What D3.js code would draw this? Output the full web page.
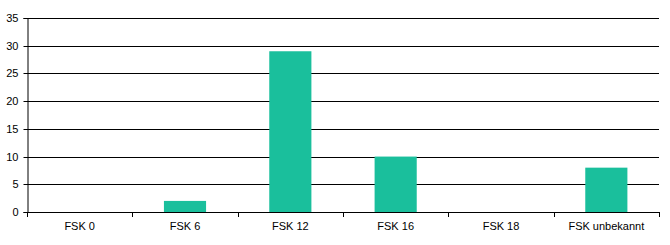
<!DOCTYPE html>
<html>
<head>
<meta charset="utf-8">
<script src="https://cdn.jsdelivr.net/npm/d3@7"></script>
<style>
body { margin: 0; background: #fff; }
text { font-family: "Liberation Sans", Arial, sans-serif; font-size: 11px; fill: #000; }
</style>
</head>
<body>
<div id="chart"></div>
<script>
const categories = ['FSK 0', 'FSK 6', 'FSK 12', 'FSK 16', 'FSK 18', 'FSK unbekannt'];
const values = [0, 2, 29, 10, 0, 8];
const yTicks = [0, 5, 10, 15, 20, 25, 30, 35];

const width = 670, height = 245;
const margin = {top: 18, right: 11, bottom: 33, left: 27};

const svg = d3.select('#chart').append('svg')
    .attr('width', width)
    .attr('height', height);

const x = d3.scaleBand()
    .domain(categories)
    .range([margin.left, width - margin.right])
    .paddingInner(0.6)
    .paddingOuter(0.3);

const y = d3.scaleLinear()
    .domain([0, 35])
    .range([height - margin.bottom, margin.top]);

// gitterlinien
svg.append('g')
    .selectAll('line')
    .data(yTicks)
    .join('line')
    .attr('x1', margin.left)
    .attr('x2', width - margin.right)
    .attr('y1', d => Math.round(y(d)) + 0.5)
    .attr('y2', d => Math.round(y(d)) + 0.5)
    .attr('stroke', '#000')
    .attr('stroke-width', 1);

// balken
svg.append('g')
    .selectAll('rect')
    .data(values)
    .join('rect')
    .attr('x', (d, i) => x(categories[i]))
    .attr('y', d => y(d))
    .attr('width', x.bandwidth())
    .attr('height', d => y(0) - y(d))
    .attr('fill', '#1abf9c');

// y-achse
const yAxis = svg.append('g')
    .attr('transform', `translate(${margin.left + 0.5},0)`)
    .call(d3.axisLeft(y).tickValues(yTicks).tickSize(4).tickPadding(5));
yAxis.selectAll('line, path').attr('stroke', '#000');
yAxis.selectAll('text').style('font-size', '11px');
yAxis.selectAll('.tick').attr('transform', d => `translate(0,${Math.round(y(d)) + 0.5})`);

// x-achse: striche an den grenzen
const step = x.step();
const bounds = d3.range(categories.length + 1).map(i => margin.left + i * step);
const xg = svg.append('g');
xg.append('line')
    .attr('x1', margin.left)
    .attr('x2', width - margin.right)
    .attr('y1', Math.round(y(0)) + 0.5)
    .attr('y2', Math.round(y(0)) + 0.5)
    .attr('stroke', '#000');
xg.selectAll('line.tk')
    .data(bounds)
    .join('line')
    .attr('class', 'tk')
    .attr('x1', d => Math.round(d) + 0.5)
    .attr('x2', d => Math.round(d) + 0.5)
    .attr('y1', Math.round(y(0)))
    .attr('y2', Math.round(y(0)) + 5)
    .attr('stroke', '#000');
xg.selectAll('text')
    .data(categories)
    .join('text')
    .attr('x', d => x(d) + x.bandwidth() / 2)
    .attr('y', Math.round(y(0)) + 18)
    .attr('text-anchor', 'middle')
    .text(d => d);
</script>
</body>
</html>
